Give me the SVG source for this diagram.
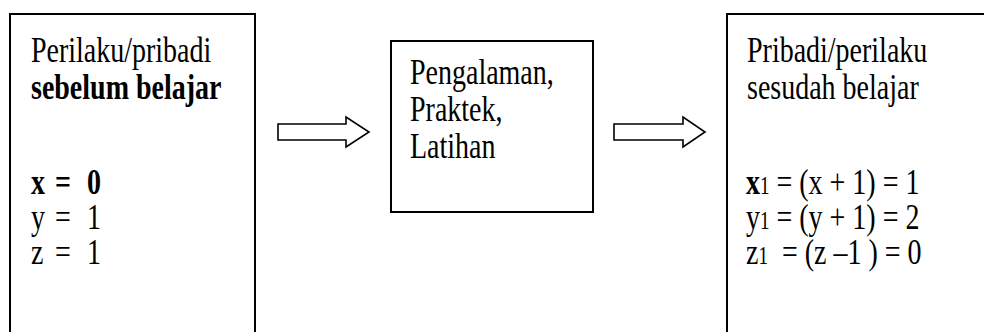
<svg xmlns="http://www.w3.org/2000/svg" width="984" height="332" viewBox="0 0 984 332">
  <style>
    .box { fill: #ffffff; stroke: #000000; stroke-width: 2; }
    .arrow { fill: #ffffff; stroke: #000000; stroke-width: 1.6; stroke-linejoin: miter; }
    .t { font-family: "Liberation Serif", "Times New Roman", serif; font-size: 28px; fill: #000000; }
    .b { font-weight: bold; }
    .sub { font-size: 19px; }
  </style>
  <rect width="984" height="332" fill="#ffffff"/>

  <!-- connectors: hollow block arrows -->
  <g id="connectors">
    <path class="arrow" d="M278,124 H346 V117 L369,132 L346,147 V140 H278 Z"/>
    <path class="arrow" d="M614,124 H683 V117 L705,132 L683,147 V140 H614 Z"/>
  </g>

  <!-- before learning -->
  <g id="node-before">
    <rect class="box" x="10" y="14" width="245" height="330"/>
    <text class="t" transform="translate(31 62) scale(1 1.28)">Perilaku/pribadi</text>
    <text class="t b" transform="translate(31 99) scale(1 1.28)">sebelum belajar</text>
    <text class="t b" transform="translate(31 194) scale(1 1.28)"><tspan x="0">x</tspan><tspan x="24">=</tspan><tspan x="56">0</tspan></text>
    <text class="t" transform="translate(31 229) scale(1 1.28)"><tspan x="0">y</tspan><tspan x="24">=</tspan><tspan x="56">1</tspan></text>
    <text class="t" transform="translate(31 264) scale(1 1.28)"><tspan x="0">z</tspan><tspan x="24">=</tspan><tspan x="56">1</tspan></text>
  </g>

  <!-- learning process -->
  <g id="node-process">
    <rect class="box" x="391" y="41" width="202" height="171"/>
    <text class="t" transform="translate(410 84) scale(1 1.28)">Pengalaman,</text>
    <text class="t" transform="translate(410 121) scale(1 1.28)">Praktek,</text>
    <text class="t" transform="translate(410 158) scale(1 1.28)">Latihan</text>
  </g>

  <!-- after learning -->
  <g id="node-after">
    <rect class="box" x="727" y="14" width="270" height="330"/>
    <text class="t" transform="translate(747 62) scale(1 1.28)">Pribadi/perilaku</text>
    <text class="t" transform="translate(747 99) scale(1 1.28)">sesudah belajar</text>
    <text class="t" transform="translate(746 194) scale(1 1.28)"><tspan class="b">x</tspan><tspan class="sub">1</tspan> = (x + 1) = 1</text>
    <text class="t" transform="translate(746 229) scale(1 1.28)">y<tspan class="sub">1</tspan> = (y + 1) = 2</text>
    <text class="t" xml:space="preserve" transform="translate(746 264) scale(1 1.28)">z<tspan class="sub">1</tspan>  = (z –1 ) = 0</text>
  </g>
</svg>
